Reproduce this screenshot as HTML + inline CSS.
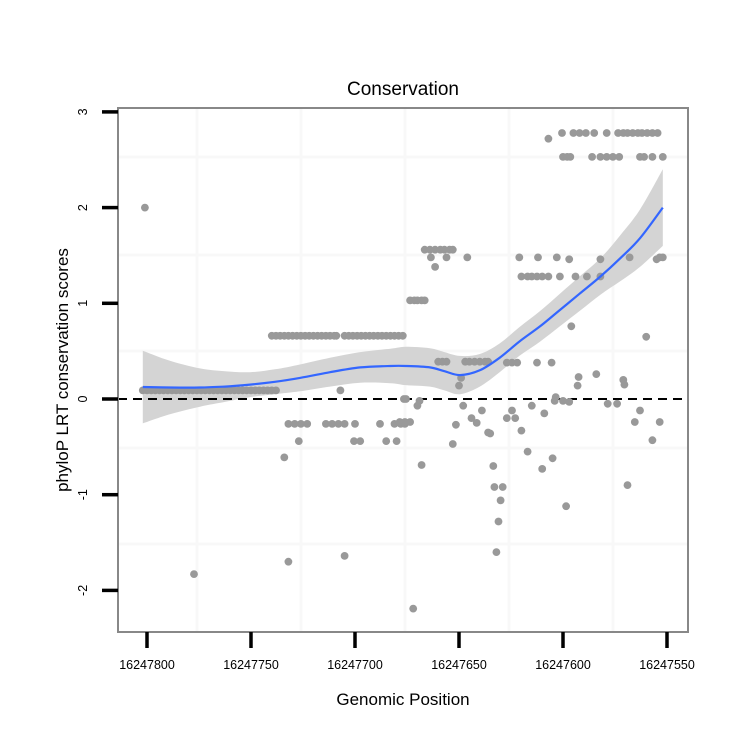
<!DOCTYPE html>
<html><head><meta charset="utf-8"><style>
body{margin:0;background:#fff;}
svg text{font-family:"Liberation Sans",sans-serif;}
</style></head><body>
<svg id="chart" width="750" height="750" xmlns="http://www.w3.org/2000/svg">
<rect x="0" y="0" width="750" height="750" fill="#fff"/>
<text x="403" y="95" font-size="19" text-anchor="middle">Conservation</text>
<g id="grid"></g>
<g id="band"></g>
<line x1="118" x2="688" y1="399" y2="399" stroke="#000" stroke-width="2" stroke-dasharray="9,6"/>
<g id="pts"></g>
<g id="fitg"></g>
<rect x="118" y="108" width="570" height="524" fill="none" stroke="#888" stroke-width="2"/>
<g id="axes"></g>
<text x="403" y="705" font-size="17" text-anchor="middle">Genomic Position</text>
<text transform="translate(68,370) rotate(-90)" font-size="17" text-anchor="middle">phyloP LRT conservation scores</text>
</svg>
<script>
const positions = [
16247802,16247800,16247798,16247796,16247794,16247792,16247790,16247788,16247786,16247784,16247782,16247780,16247778,16247776,16247774,16247772,16247770,16247768,16247766,16247764,16247762,16247760,16247758,16247756,16247754,16247752,16247750,16247748,16247746,16247744,16247742,16247740,16247738,
16247801,16247777.4,
16247740,16247738,16247736,16247734,16247732,16247730,16247728,16247726,16247724,16247722,16247720,16247718,16247716,16247714,16247712,16247710,16247709,
16247705,16247703,16247701,16247699,16247697,16247695,16247693,16247691,16247689,16247687,16247685,16247683,16247681,16247679,16247677,
16247707,
16247732,16247729,16247726,16247723,16247714,16247711,16247708,16247705,16247700,16247688,16247681,16247678,16247676,
16247727,16247700.5,16247697.5,16247685,16247680,
16247734,16247732,16247705,16247675.5,
16247607,
16247600.5,16247595,16247592,16247589,16247585,16247579,16247573.5,16247571,16247569,16247566.5,16247564,16247562,16247559.5,16247557,16247554.5,
16247600,16247598,16247596.5,16247586,16247582,16247579,16247576,16247573,16247563,16247561,16247557,16247552,
16247666.5,16247664,16247661.5,16247659,16247657,16247654.5,16247653,
16247663.5,16247656,16247646,16247661.5,
16247621,16247612,16247603,16247597,16247582,16247568,16247555,16247553.5,16247552,
16247620,16247617,16247615,16247612.5,16247610,16247607,16247601.5,16247594,16247588.5,16247582,
16247673.5,16247671.5,16247670,16247668,16247666.5,
16247596,16247560,
16247660,16247658,16247656,16247647,16247645,16247642.5,16247640,16247637.5,16247636,16247627,16247624.5,16247622,16247612.5,16247605.5,
16247650,16247649,16247593,16247592.5,16247584,16247571,16247570.5,
16247676.5,16247669,16247603.5,16247600,16247597,16247604,16247578.5,16247574,16247563,
16247670,16247648,16247615,16247639,16247624.5,
16247644,16247641.5,16247627,16247623,16247620,16247609,
16247678.5,16247676,16247673.5,16247565.5,16247553.5,
16247651.5,16247635,16247636,16247653,16247617,16247605,16247668,16247633.5,16247610,16247557,16247569,16247633,16247629,16247630,16247598.5,16247631,16247632,16247672
];
const scores = [
0.09,0.09,0.09,0.09,0.09,0.09,0.09,0.09,0.09,0.09,0.09,0.09,0.09,0.09,0.09,0.09,0.09,0.09,0.09,0.09,0.09,0.09,0.09,0.09,0.09,0.09,0.09,0.09,0.09,0.09,0.09,0.09,0.09,
2.0,-1.83,
0.66,0.66,0.66,0.66,0.66,0.66,0.66,0.66,0.66,0.66,0.66,0.66,0.66,0.66,0.66,0.66,0.66,
0.66,0.66,0.66,0.66,0.66,0.66,0.66,0.66,0.66,0.66,0.66,0.66,0.66,0.66,0.66,
0.09,
-0.26,-0.26,-0.26,-0.26,-0.26,-0.26,-0.26,-0.26,-0.26,-0.26,-0.26,-0.26,-0.26,
-0.44,-0.44,-0.44,-0.44,-0.44,
-0.61,-1.7,-1.64,0.0,
2.72,
2.78,2.78,2.78,2.78,2.78,2.78,2.78,2.78,2.78,2.78,2.78,2.78,2.78,2.78,2.78,
2.53,2.53,2.53,2.53,2.53,2.53,2.53,2.53,2.53,2.53,2.53,2.53,
1.56,1.56,1.56,1.56,1.56,1.56,1.56,
1.48,1.48,1.48,1.38,
1.48,1.48,1.48,1.46,1.46,1.48,1.46,1.48,1.48,
1.28,1.28,1.28,1.28,1.28,1.28,1.28,1.28,1.28,1.28,
1.03,1.03,1.03,1.03,1.03,
0.76,0.65,
0.39,0.39,0.39,0.39,0.39,0.39,0.39,0.39,0.39,0.38,0.38,0.38,0.38,0.38,
0.14,0.22,0.14,0.23,0.26,0.2,0.15,
0.0,-0.02,0.02,-0.02,-0.03,-0.02,-0.05,-0.05,-0.12,
-0.07,-0.07,-0.07,-0.12,-0.12,
-0.2,-0.25,-0.2,-0.2,-0.33,-0.15,
-0.24,-0.24,-0.24,-0.24,-0.24,
-0.27,-0.36,-0.35,-0.47,-0.55,-0.62,-0.69,-0.7,-0.73,-0.43,-0.9,-0.92,-0.92,-1.06,-1.12,-1.28,-1.6,-2.19
];
const fitPositions = [16247802,16247789,16247774.5,16247762.5,16247750.5,16247738.5,16247726.5,16247712,16247697.5,16247683,16247675.5,16247664,16247657,16247649.5,16247640,16247630.5,16247621,16247611,16247601.5,16247592,16247582,16247572.5,16247563,16247552];
const fitValues = [0.125,0.12,0.12,0.13,0.15,0.18,0.22,0.28,0.33,0.345,0.345,0.33,0.29,0.25,0.3,0.43,0.6,0.76,0.93,1.1,1.28,1.47,1.68,2.0];
const fitSE = [0.38,0.28,0.2,0.16,0.13,0.13,0.14,0.15,0.16,0.18,0.2,0.2,0.2,0.2,0.17,0.15,0.15,0.16,0.17,0.18,0.19,0.24,0.3,0.4];
const xTicks = [16247800,16247750,16247700,16247650,16247600,16247550];
const xTickLabels = ["16247800","16247750","16247700","16247650","16247600","16247550"];
const yTicks = [3,2,1,0,-1,-2];
const yTickLabels = ["3","2","1","0","-1","-2"];

const NS = "http://www.w3.org/2000/svg";
function X(p){ return 147 + (16247800 - p) * 2.08; }
function Y(v){ return 399 - v * 95.7; }
function mk(tag, attrs, parent){ const e=document.createElementNS(NS,tag); for(const k in attrs) e.setAttribute(k,attrs[k]); parent.appendChild(e); return e; }
function smooth(P, start){
  let d = (start ? 'M' : 'L') + P[0][0].toFixed(1) + ',' + P[0][1].toFixed(1);
  for(let i=0;i<P.length-1;i++){
    const p0=P[Math.max(0,i-1)], p1=P[i], p2=P[i+1], p3=P[Math.min(P.length-1,i+2)];
    const c1x=p1[0]+(p2[0]-p0[0])/6, c1y=p1[1]+(p2[1]-p0[1])/6;
    const c2x=p2[0]-(p3[0]-p1[0])/6, c2y=p2[1]-(p3[1]-p1[1])/6;
    d += 'C'+c1x.toFixed(1)+','+c1y.toFixed(1)+' '+c2x.toFixed(1)+','+c2y.toFixed(1)+' '+p2[0].toFixed(1)+','+p2[1].toFixed(1);
  }
  return d;
}

const grid=document.getElementById('grid');
[197,301,405,509,613].forEach(function(gx){
  const l=mk('line',{x1:gx,x2:gx,y1:108,y2:632,stroke:'#f8f8f8','stroke-width':3},grid);
  
  
});
[157,255,351,448,544].forEach(function(gy){
  const l=mk('line',{x1:118,x2:688,y1:gy,y2:gy,stroke:'#f8f8f8','stroke-width':3},grid);
  
  
});

const upper = fitPositions.map(function(p,i){ return [X(p), Y(fitValues[i]+fitSE[i])]; });
const lower = fitPositions.map(function(p,i){ return [X(p), Y(fitValues[i]-fitSE[i])]; }).reverse();
const bp=mk('path',{d:smooth(upper,true)+smooth(lower,false)+'Z',fill:'#d4d4d4'},document.getElementById('band'));



const pts=document.getElementById('pts');
positions.forEach(function(p,i){
  const c=mk('circle',{cx:X(p).toFixed(1),cy:Y(scores[i]).toFixed(1),r:3.9,fill:'#999'},pts);
  
  
});

const center = fitPositions.map(function(p,i){ return [X(p), Y(fitValues[i])]; });
const fl=mk('path',{d:smooth(center,true),fill:'none',stroke:'#3366ff','stroke-width':2.2},document.getElementById('fitg'));



const axes=document.getElementById('axes');
xTicks.forEach(function(t,i){
  const l=mk('line',{x1:X(t),x2:X(t),y1:632,y2:648,stroke:'#000','stroke-width':3.5},axes);
  
  
  const tx=mk('text',{x:X(t),y:669,'font-size':12.5,'text-anchor':'middle'},axes);
  tx.textContent=xTickLabels[i];
  
  
});
yTicks.forEach(function(t,i){
  const l=mk('line',{x1:102,x2:118,y1:Y(t),y2:Y(t),stroke:'#000','stroke-width':3.5},axes);
  
  
  const tx=mk('text',{transform:'translate(87,'+Y(t)+') rotate(-90)','font-size':12.5,'text-anchor':'middle'},axes);
  tx.textContent=yTickLabels[i];
  
  
});
</script>
</body></html>
